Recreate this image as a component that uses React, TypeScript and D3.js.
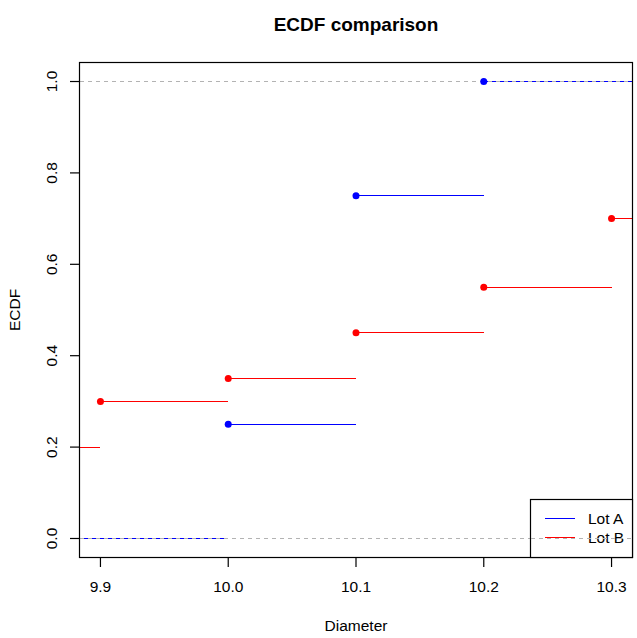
import React from 'react';
import * as d3 from 'd3';

// step positions and ECDF levels for each lot
const lotAJumps = [10.0, 10.1, 10.2];
const lotALevels = [0.25, 0.75, 1.0];
const lotAStart = 0;

const lotBJumps = [9.9, 10.0, 10.1, 10.2, 10.3];
const lotBLevels = [0.3, 0.35, 0.45, 0.55, 0.7];
const lotBStart = 0.2;

const xTicks = [9.9, 10.0, 10.1, 10.2, 10.3];
const yTicks = [0, 0.2, 0.4, 0.6, 0.8, 1.0];
const legendNames = ['Lot A', 'Lot B'];
const colors = ['#0000ff', '#ff0000'];

const W = 637;
const H = 638;
const margin = { left: 79.5, right: 4.5, top: 62.5, bottom: 80.5 };
const font = '"Liberation Sans", Arial, sans-serif';

type Seg = { x0: number; x1: number; y: number };

const App: React.FC = () => {
    const x = d3.scaleLinear().domain([9.8836, 10.3164]).range([margin.left, W - margin.right]);
    const y = d3.scaleLinear().domain([-0.0416, 1.0416]).range([H - margin.bottom, margin.top]);
    const [xmin, xmax] = x.domain();

    const steps = (jumps: number[], levels: number[], start: number): Seg[] => {
        const segs: Seg[] = [{ x0: xmin, x1: jumps[0], y: start }];
        jumps.forEach((j, i) => {
            segs.push({ x0: j, x1: i < jumps.length - 1 ? jumps[i + 1] : xmax, y: levels[i] });
        });
        return segs;
    };

    const series = [
        { segs: steps(lotAJumps, lotALevels, lotAStart), jumps: lotAJumps, levels: lotALevels, color: colors[0] },
        { segs: steps(lotBJumps, lotBLevels, lotBStart), jumps: lotBJumps, levels: lotBLevels, color: colors[1] },
    ];

    const bottom = H - margin.bottom;
    const right = W - margin.right;
    const fmt = d3.format('.1f');

    return (
        <svg width={W} height={H} style={{ position: 'absolute', left: 0, top: 0, background: '#fff' }}
            fontFamily={font}>
            <defs>
                <clipPath id="plot">
                    <rect x={margin.left} y={margin.top} width={right - margin.left} height={bottom - margin.top} />
                </clipPath>
            </defs>

            <text x={(margin.left + right) / 2} y={31} textAnchor="middle" fontSize={19} fontWeight="bold">
                ECDF comparison
            </text>

            <g clipPath="url(#plot)" shapeRendering="crispEdges">
                {series.map((s, k) => (
                    <g key={k}>
                        {s.segs.map((d, i) => (
                            <line key={i} x1={x(d.x0)} x2={x(d.x1)} y1={y(d.y)} y2={y(d.y)}
                                stroke={s.color} strokeWidth={1} />
                        ))}
                    </g>
                ))}
                {[0, 1].map(v => (
                    <line key={v} x1={margin.left} x2={right} y1={y(v)} y2={y(v)}
                        stroke="#b3b3b3" strokeWidth={1} strokeDasharray="4.5,3.5" />
                ))}
            </g>
            <g clipPath="url(#plot)">
                {series.map((s, k) => (
                    <g key={k}>
                        {s.jumps.map((j, i) => (
                            <circle key={i} cx={x(j)} cy={y(s.levels[i])} r={3.5} fill={s.color} />
                        ))}
                    </g>
                ))}
            </g>

            <rect x={margin.left} y={margin.top} width={right - margin.left} height={bottom - margin.top}
                fill="none" stroke="#000" strokeWidth={1.2} />

            {xTicks.map(t => (
                <g key={t}>
                    <line x1={x(t)} x2={x(t)} y1={bottom} y2={bottom + 9.5} stroke="#000" strokeWidth={1.2} />
                    <text x={x(t)} y={592} textAnchor="middle" fontSize={15.5}>{fmt(t)}</text>
                </g>
            ))}
            {yTicks.map(t => (
                <g key={t}>
                    <line x1={margin.left - 9.5} x2={margin.left} y1={y(t)} y2={y(t)} stroke="#000" strokeWidth={1.2} />
                    <text transform={`translate(57,${y(t)}) rotate(-90)`} textAnchor="middle" fontSize={15.5}>
                        {fmt(t)}
                    </text>
                </g>
            ))}

            <text x={(margin.left + right) / 2} y={631} textAnchor="middle" fontSize={15.5}>Diameter</text>
            <text transform={`translate(20,${(margin.top + bottom) / 2}) rotate(-90)`} textAnchor="middle"
                fontSize={15.5}>ECDF</text>

            <g>
                <rect x={530.5} y={499.5} width={right - 530.5} height={bottom - 499.5} fill="#fff"
                    stroke="#000" strokeWidth={1.2} />
                {legendNames.map((n, i) => (
                    <g key={n}>
                        <line x1={545} x2={575} y1={518.5 + i * 19} y2={518.5 + i * 19} stroke={colors[i]}
                            strokeWidth={1} shapeRendering="crispEdges" />
                        <text x={588} y={524 + i * 19} fontSize={15.5}>{n}</text>
                    </g>
                ))}
            </g>
            <line x1={530.5} x2={right} y1={y(0)} y2={y(0)} stroke="#b3b3b3" strokeWidth={1}
                strokeDasharray="4.5,3.5" shapeRendering="crispEdges" />
        </svg>
    );
};

export default App;
